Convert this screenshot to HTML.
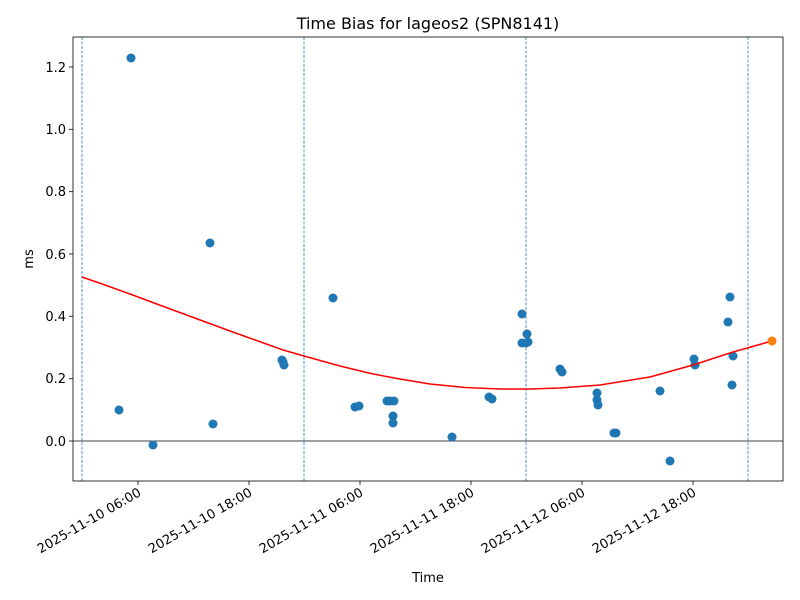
<!DOCTYPE html>
<html><head><meta charset="utf-8"><style>body{margin:0;background:#fff}svg{display:block}text{font-family:"DejaVu Sans","Liberation Sans",sans-serif;fill:#000}</style></head>
<body>
<svg width="800" height="600" xmlns="http://www.w3.org/2000/svg">
<rect width="800" height="600" fill="#fff"/>
<text x="428" y="29" font-size="16" text-anchor="middle">Time Bias for lageos2 (SPN8141)</text>
<g stroke="#1f77b4" stroke-width="0.8" stroke-dasharray="3,1.5">
<line x1="82" y1="37" x2="82" y2="481"/><line x1="304" y1="37" x2="304" y2="481"/>
<line x1="526" y1="37" x2="526" y2="481"/><line x1="748" y1="37" x2="748" y2="481"/>
</g>
<line x1="73" y1="441" x2="783" y2="441" stroke="#000" stroke-width="0.8"/>
<g fill="#1f77b4">
<circle cx="119" cy="410" r="4.5"/><circle cx="131" cy="58" r="4.5"/><circle cx="153" cy="445" r="4.5"/>
<circle cx="210" cy="243" r="4.5"/><circle cx="213" cy="424" r="4.5"/><circle cx="282" cy="360" r="4.5"/>
<circle cx="283" cy="362" r="4.5"/><circle cx="284" cy="365" r="4.5"/><circle cx="333" cy="298" r="4.5"/>
<circle cx="355" cy="407" r="4.5"/><circle cx="359" cy="406" r="4.5"/><circle cx="387" cy="401" r="4.5"/>
<circle cx="390" cy="401" r="4.5"/><circle cx="394" cy="401" r="4.5"/><circle cx="393" cy="416" r="4.5"/>
<circle cx="393" cy="423" r="4.5"/><circle cx="452" cy="437" r="4.5"/><circle cx="489" cy="397" r="4.5"/>
<circle cx="492" cy="399" r="4.5"/><circle cx="522" cy="314" r="4.5"/><circle cx="522" cy="343" r="4.5"/>
<circle cx="526" cy="343" r="4.5"/><circle cx="527" cy="334" r="4.5"/><circle cx="528" cy="342" r="4.5"/>
<circle cx="560" cy="369" r="4.5"/><circle cx="562" cy="372" r="4.5"/><circle cx="597" cy="393" r="4.5"/>
<circle cx="597" cy="400" r="4.5"/><circle cx="598" cy="405" r="4.5"/><circle cx="614" cy="433" r="4.5"/>
<circle cx="616" cy="433" r="4.5"/><circle cx="660" cy="391" r="4.5"/><circle cx="670" cy="461" r="4.5"/>
<circle cx="694" cy="359" r="4.5"/><circle cx="695" cy="365" r="4.5"/><circle cx="728" cy="322" r="4.5"/>
<circle cx="730" cy="297" r="4.5"/><circle cx="733" cy="356" r="4.5"/><circle cx="732" cy="385" r="4.5"/>
</g>
<polyline fill="none" stroke="red" stroke-width="1.5" stroke-linejoin="round" points="82,277 105,285 130,294 173,310 230,331 283,350 304,356 340,366 373,374 400,379 430,384 465,387.5 500,389 530,389 560,388 600,385 650,377 693,365 733,352 772,341"/>
<circle cx="772" cy="341" r="4.5" fill="#ff7f0e"/>
<rect x="73" y="37" width="710" height="444" fill="none" stroke="#000" stroke-width="0.8"/>
<g stroke="#000" stroke-width="0.8">
<line x1="69" y1="67" x2="73" y2="67"/><line x1="69" y1="129.3" x2="73" y2="129.3"/>
<line x1="69" y1="191.7" x2="73" y2="191.7"/><line x1="69" y1="254" x2="73" y2="254"/>
<line x1="69" y1="316.3" x2="73" y2="316.3"/><line x1="69" y1="378.7" x2="73" y2="378.7"/>
<line x1="69" y1="441" x2="73" y2="441"/>
<line x1="138" y1="481" x2="138" y2="485"/><line x1="249" y1="481" x2="249" y2="485"/>
<line x1="360" y1="481" x2="360" y2="485"/><line x1="471" y1="481" x2="471" y2="485"/>
<line x1="582" y1="481" x2="582" y2="485"/><line x1="693" y1="481" x2="693" y2="485"/>
</g>
<g font-size="13" text-anchor="end">
<text x="66" y="72">1.2</text><text x="66" y="134">1.0</text><text x="66" y="196">0.8</text>
<text x="66" y="259">0.6</text><text x="66" y="321">0.4</text><text x="66" y="383">0.2</text><text x="66" y="446">0.0</text>
</g>
<g font-size="13" text-anchor="end">
<text transform="translate(142,495) rotate(-30)">2025-11-10 06:00</text>
<text transform="translate(253,495) rotate(-30)">2025-11-10 18:00</text>
<text transform="translate(364,495) rotate(-30)">2025-11-11 06:00</text>
<text transform="translate(475,495) rotate(-30)">2025-11-11 18:00</text>
<text transform="translate(586,495) rotate(-30)">2025-11-12 06:00</text>
<text transform="translate(697,495) rotate(-30)">2025-11-12 18:00</text>
</g>
<text x="428" y="582" font-size="13" text-anchor="middle">Time</text>
<text transform="translate(33,259) rotate(-90)" font-size="13" text-anchor="middle">ms</text>
</svg>
</body></html>
